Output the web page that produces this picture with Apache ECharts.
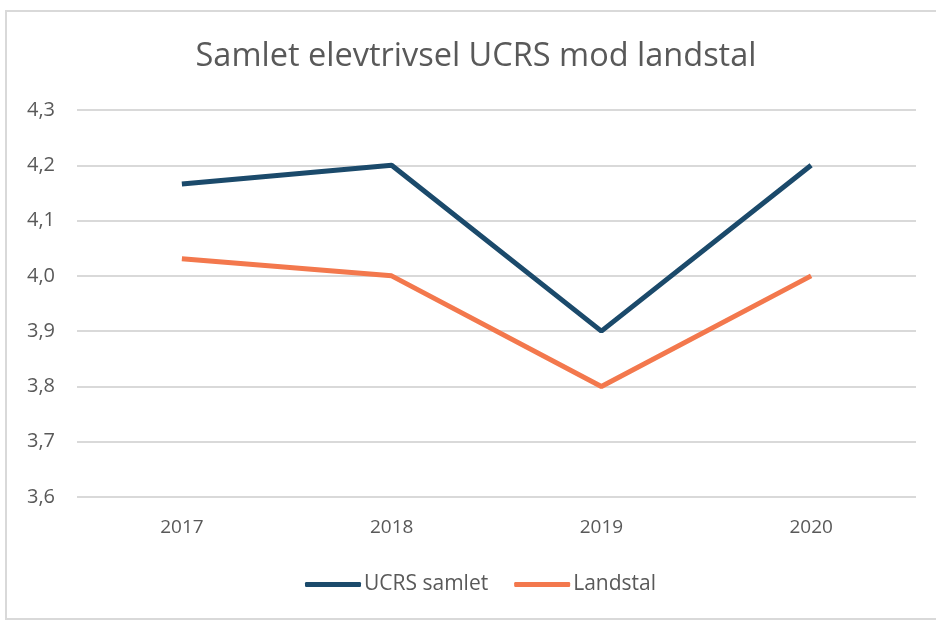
<!DOCTYPE html>
<html>
<head>
<meta charset="utf-8">
<script src="https://cdn.jsdelivr.net/npm/echarts@6/dist/echarts.min.js"></script>
<style>
  html, body { margin: 0; padding: 0; background: #fff; }
  #chart { width: 936px; height: 621px; }
</style>
</head>
<body>
<div id="chart"></div>
<script>
// data
const years = ['2017', '2018', '2019', '2020']
const ucrs = [4.166, 4.2, 3.9, 4.2]
const landstal = [4.031, 4.0, 3.8, 4.0]

const chart = echarts.init(document.getElementById('chart'))
const textColor = '#595959'
const font = 'Open Sans'

const option = {
  animation: false,
  title: {
    text: 'Samlet elevtrivsel UCRS mod landstal',
    left: 471,
    textAlign: 'center',
    top: 35,
    textStyle: { fontFamily: font, fontSize: 32.5, fontWeight: 'normal', color: textColor }
  },
  graphic: [{
    type: 'rect',
    shape: { x: 6, y: 11, width: 940, height: 608 },
    style: { fill: 'none', stroke: '#d9d9d9', lineWidth: 2 },
    silent: true
  }],
  legend: {
    bottom: 21,
    left: 300,
    itemWidth: 56,
    itemHeight: 5,
    itemGap: 26,
    icon: 'roundRect',
    textStyle: { fontFamily: font, fontSize: 21, color: textColor, padding: [0, 0, 0, -2] },
    data: ['UCRS samlet', 'Landstal']
  },
  grid: { left: 77, right: 20, top: 110, bottom: 124, containLabel: false },
  xAxis: {
    type: 'category',
    data: years,
    boundaryGap: true,
    axisLine: { show: false },
    axisTick: { show: false },
    axisLabel: { fontFamily: font, fontSize: 19, color: textColor, margin: 21 }
  },
  yAxis: {
    type: 'value',
    min: 3.6,
    max: 4.3,
    interval: 0.1,
    axisLine: { show: false },
    axisTick: { show: false },
    splitLine: { lineStyle: { color: '#d9d9d9', width: 2 } },
    axisLabel: {
      fontFamily: font, fontSize: 20, color: textColor, margin: 22,
      formatter: v => v.toFixed(1).replace('.', ',')
    }
  },
  series: [
    {
      name: 'UCRS samlet',
      type: 'line',
      data: ucrs,
      color: '#1b4a6b',
      symbol: 'none',
      lineStyle: { width: 5, color: '#1b4a6b' }
    },
    {
      name: 'Landstal',
      type: 'line',
      data: landstal,
      color: '#f3784d',
      symbol: 'none',
      lineStyle: { width: 5, color: '#f3784d' }
    }
  ]
}

chart.setOption(option)
</script>
</body>
</html>
